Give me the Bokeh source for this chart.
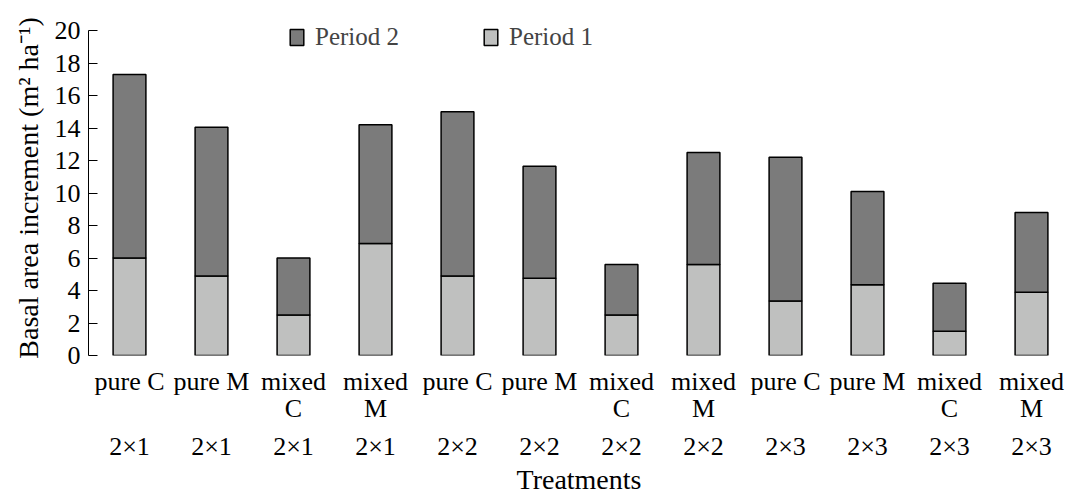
from bokeh.plotting import figure
from bokeh.models import (ColumnDataSource, Range1d, LinearAxis, FixedTicker,
                          Legend, LegendItem)
from bokeh.embed import file_html
from bokeh.resources import INLINE

treatments = ["pure C", "pure M", "mixed\nC", "mixed\nM"] * 3
spacings = ["2×1"] * 4 + ["2×2"] * 4 + ["2×3"] * 4
period1 = [6.0, 4.9, 2.5, 6.9, 4.9, 4.75, 2.5, 5.6, 3.35, 4.35, 1.5, 3.9]
period2 = [11.3, 9.15, 3.5, 7.3, 10.1, 6.9, 3.1, 6.9, 8.85, 5.75, 2.95, 4.9]
y_ticks = [0, 2, 4, 6, 8, 10, 12, 14, 16, 18, 20]

xs = list(range(1, len(period1) + 1))
src = ColumnDataSource(dict(x=xs, p1=period1, p2=period2))

FONT = "Liberation Serif"
DARK = "#7b7b7b"
LIGHT = "#bfc0bf"

p = figure(width=1069, height=497, output_backend="svg", toolbar_location=None,
           x_range=Range1d(0.5, 0.5 + 981 / 82), y_range=Range1d(0, 335 / 16.25),
           min_border_left=88, min_border_right=0, min_border_top=20,
           min_border_bottom=142, x_axis_location=None)
p.outline_line_color = None
p.grid.visible = False

rs = p.vbar_stack(["p1", "p2"], x="x", width=0.4, source=src,
                  color=[LIGHT, DARK], line_color="black", line_width=1.5)

# y axis
ya = p.yaxis[0]
ya.ticker = FixedTicker(ticks=y_ticks)
ya.bounds = (0, 20)
ya.minor_tick_line_color = None
ya.major_tick_in = 9
ya.major_tick_out = 0
ya.major_label_standoff = 8
ya.major_label_text_font = FONT
ya.major_label_text_font_size = "26px"
ya.major_label_text_color = "black"
ya.axis_line_color = "black"
ya.major_tick_line_color = "black"
ya.axis_label = "Basal area increment (m\u00b2 ha\u207b\u00b9)"
ya.axis_label_text_font = FONT
ya.axis_label_text_font_size = "28px"
ya.axis_label_text_font_style = "normal"
ya.axis_label_text_color = "black"
ya.axis_label_standoff = 8

# x axes (treatment, then spacing)
ax1 = LinearAxis(ticker=FixedTicker(ticks=xs),
                 major_label_overrides={x: t for x, t in zip(xs, treatments)})
ax2 = LinearAxis(ticker=FixedTicker(ticks=xs),
                 major_label_overrides={x: s for x, s in zip(xs, spacings)},
                 axis_label="Treatments")
for ax in (ax1, ax2):
    ax.axis_line_color = None
    ax.major_tick_line_color = None
    ax.minor_tick_line_color = None
    ax.major_tick_in = 0
    ax.major_tick_out = 0
    ax.major_label_text_font = FONT
    ax.major_label_text_font_size = "26px"
    ax.major_label_text_color = "black"
    ax.major_label_text_line_height = 1.0
    ax.axis_label_text_font = FONT
    ax.axis_label_text_font_size = "28px"
    ax.axis_label_text_font_style = "normal"
    ax.axis_label_text_color = "black"
    ax.axis_label_text_line_height = 0.9
ax1.major_label_text_line_height = 0.94
ax1.major_label_standoff = 11
ax2.major_label_standoff = 6
ax2.axis_label_standoff = 0
p.add_layout(ax1, "below")
p.add_layout(ax2, "below")

legend = Legend(items=[LegendItem(label="Period 2", renderers=[rs[1]]),
                       LegendItem(label="Period 1", renderers=[rs[0]])],
                orientation="horizontal", location=(200, 304),
                padding=0, margin=0, spacing=83, label_standoff=10,
                glyph_width=17, glyph_height=20,
                label_text_font=FONT, label_text_font_size="25px",
                border_line_color=None, background_fill_alpha=0)
p.add_layout(legend, "center")

open("out.html", "w").write(file_html(p, INLINE))
